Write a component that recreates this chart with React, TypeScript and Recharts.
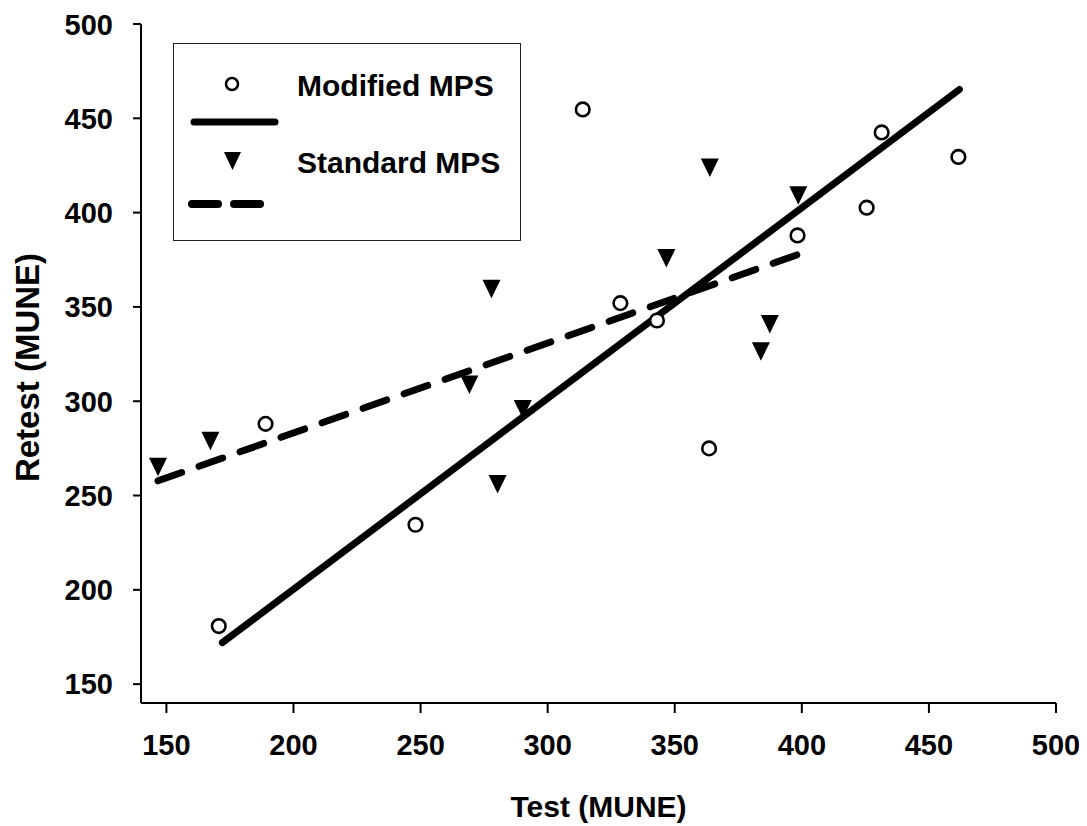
import React from 'react'
import { ScatterChart, Scatter, XAxis, YAxis, Legend, Label } from 'recharts'

// Modified MPS (open circles)
const modifiedTest = [170.6, 189, 248, 313.8, 328.6, 343, 363.5, 398.3, 425.5, 431.4, 461.6]
const modifiedRetest = [180.8, 288, 234.5, 454.7, 352, 342.8, 275, 387.9, 402.6, 442.5, 429.5]

// Standard MPS (filled down triangles)
const standardTest = [146.7, 167.3, 269.2, 277.9, 280.3, 290.2, 346.7, 363.8, 383.9, 387.4, 398.6]
const standardRetest = [265.3, 279.1, 308.8, 359.6, 256.1, 295.9, 375.9, 423.9, 326.5, 341, 409.2]

// regression line end points
const modifiedFitX = [172, 462]
const modifiedFitY = [172, 465.3]
const standardFitX = [146.7, 400]
const standardFitY = [257.8, 378.5]

const ticks = [150, 200, 250, 300, 350, 400, 450, 500]

const toPoints = (xs: number[], ys: number[]) => xs.map((x, i) => ({ x, y: ys[i] }))

const modifiedData = toPoints(modifiedTest, modifiedRetest)
const standardData = toPoints(standardTest, standardRetest)
const modifiedFit = toPoints(modifiedFitX, modifiedFitY)
const standardFit = toPoints(standardFitX, standardFitY)

const FONT = '"Liberation Sans", Arial, sans-serif'

const OpenCircle = (props: any) => (
  <circle cx={props.cx} cy={props.cy} r={6.8} fill="#fff" stroke="#000" strokeWidth={2.6} />
)

const DownTriangle = (props: any) => {
  const { cx, cy } = props
  return <polygon points={`${cx - 9},${cy - 9} ${cx + 9},${cy - 9} ${cx},${cy + 9.5}`} fill="#000" />
}

const NoShape = () => <g />

function LegendBox() {
  return (
    <div style={{ width: 346, height: 196, border: '1.5px solid #222', background: '#fff', boxSizing: 'content-box' }}>
      <svg width={346} height={196} style={{ display: 'block' }}>
        <circle cx={58} cy={40} r={6} fill="#fff" stroke="#000" strokeWidth={2.5} />
        <text x={123} y={41} dominantBaseline="central" fontFamily={FONT} fontWeight="bold" fontSize={30}>
          Modified MPS
        </text>
        <line x1={20} y1={78} x2={101} y2={78} stroke="#000" strokeWidth={7} strokeLinecap="round" />
        <polygon points="50,108 67,108 58.5,126" fill="#000" />
        <text x={123} y={118} dominantBaseline="central" fontFamily={FONT} fontWeight="bold" fontSize={30}>
          Standard MPS
        </text>
        <line x1={18} y1={160} x2={44} y2={160} stroke="#000" strokeWidth={8} strokeLinecap="round" />
        <line x1={60} y1={160} x2={86} y2={160} stroke="#000" strokeWidth={8} strokeLinecap="round" />
      </svg>
    </div>
  )
}

export default function App() {
  const tickStyle = { fontSize: 29, fontWeight: 'bold', fill: '#000', fontFamily: FONT }
  return (
    <div style={{ width: 1071, height: 818 }}>
      <style>{'.recharts-surface { overflow: visible; }'}</style>
      <ScatterChart
        width={1071}
        height={818}
        margin={{ top: 16, right: 23, left: 0, bottom: 0 }}
        style={{ fontFamily: FONT }}
      >
        <XAxis
          type="number"
          dataKey="x"
          domain={[140, 500]}
          ticks={ticks}
          height={123}
          tick={tickStyle}
          tickSize={10}
          tickMargin={21}
          axisLine={{ stroke: '#000', strokeWidth: 2 }}
          tickLine={{ stroke: '#000', strokeWidth: 2 }}
        >
          <Label
            content={(p: any) => {
              const vb = p.viewBox
              return (
                <text
                  x={vb.x + vb.width / 2}
                  y={vb.y + 114}
                  textAnchor="middle"
                  fontFamily={FONT}
                  fontWeight="bold"
                  fontSize={30}
                  fill="#000"
                >
                  Test (MUNE)
                </text>
              )
            }}
          />
        </XAxis>
        <YAxis
          type="number"
          dataKey="y"
          domain={[140, 500]}
          ticks={ticks}
          width={133}
          tick={tickStyle}
          tickSize={8}
          tickMargin={20}
          axisLine={{ stroke: '#000', strokeWidth: 2 }}
          tickLine={{ stroke: '#000', strokeWidth: 2 }}
        >
          <Label
            content={(p: any) => {
              const vb = p.viewBox
              const cx = vb.x + 19
              const cy = vb.y + vb.height / 2 + 4
              return (
                <text
                  x={cx}
                  y={cy}
                  transform={`rotate(-90 ${cx} ${cy})`}
                  textAnchor="middle"
                  dominantBaseline="central"
                  fontFamily={FONT}
                  fontWeight="bold"
                  fontSize={33}
                  fill="#000"
                >
                  Retest (MUNE)
                </text>
              )
            }}
          />
        </YAxis>
        <Legend
          layout="horizontal"
          verticalAlign="middle"
          align="center"
          wrapperStyle={{ left: 165, top: 35, width: 350, height: 200 }}
          content={() => <LegendBox />}
        />
        <Scatter
          data={modifiedFit}
          shape={NoShape}
          line={{ stroke: '#000', strokeWidth: 7, strokeLinecap: 'round' }}
          legendType="none"
          isAnimationActive={false}
        />
        <Scatter
          data={standardFit}
          shape={NoShape}
          line={{ stroke: '#000', strokeWidth: 7, strokeLinecap: 'round', strokeDasharray: '25 18.5' }}
          legendType="none"
          isAnimationActive={false}
        />
        <Scatter name="Modified MPS" data={modifiedData} shape={OpenCircle} isAnimationActive={false} />
        <Scatter name="Standard MPS" data={standardData} shape={DownTriangle} isAnimationActive={false} />
      </ScatterChart>
    </div>
  )
}
